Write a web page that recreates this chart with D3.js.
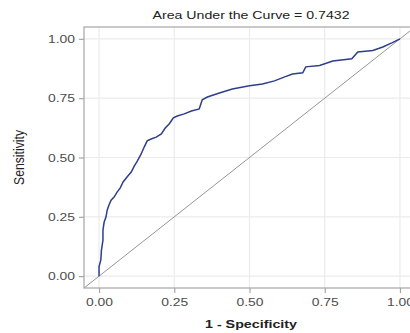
<!DOCTYPE html>
<html>
<head>
<meta charset="utf-8">
<script src="https://cdn.jsdelivr.net/npm/d3@7"></script>
<style>
  body { margin: 0; background: #fff; }
  text { font-family: "Liberation Sans", Arial, sans-serif; }
</style>
</head>
<body>
<script>
const width = 410
const height = 333
const margins = { top: 27, right: -5, bottom: 45, left: 84 }

const title = 'Area Under the Curve = 0.7432'
const xLabel = '1 - Specificity'
const yLabel = 'Sensitivity'
const ticks = [0, 0.25, 0.5, 0.75, 1]

// ROC points
const fpr = [0, 0, 0.006, 0.008, 0.013, 0.013, 0.017, 0.023, 0.027, 0.033,
  0.04, 0.05, 0.06, 0.07, 0.08, 0.093, 0.107, 0.117, 0.127, 0.14,
  0.15, 0.16, 0.173, 0.19, 0.207, 0.22, 0.233, 0.247, 0.26, 0.283,
  0.307, 0.333, 0.343, 0.36, 0.40, 0.443, 0.50, 0.543, 0.583, 0.617,
  0.643, 0.677, 0.687, 0.733, 0.777, 0.84, 0.86, 0.91, 0.943, 0.973, 1]
const tpr = [0, 0.04, 0.068, 0.11, 0.152, 0.194, 0.228, 0.249, 0.278, 0.30,
  0.32, 0.333, 0.354, 0.371, 0.397, 0.418, 0.439, 0.464, 0.485, 0.515,
  0.544, 0.57, 0.578, 0.586, 0.599, 0.624, 0.641, 0.667, 0.675, 0.684,
  0.696, 0.705, 0.743, 0.755, 0.772, 0.789, 0.802, 0.81, 0.823, 0.84,
  0.852, 0.857, 0.882, 0.888, 0.907, 0.916, 0.945, 0.951, 0.966, 0.983, 1]

const svg = d3.select('body').append('svg')
  .attr('width', width)
  .attr('height', height)

const x = d3.scaleLinear().domain([-0.05, 1.05]).range([margins.left, width - margins.right])
const y = d3.scaleLinear().domain([-0.05, 1.05]).range([height - margins.bottom, margins.top])

svg.append('clipPath').attr('id', 'panel')
  .append('rect')
  .attr('x', margins.left).attr('y', margins.top)
  .attr('width', width - margins.right - margins.left)
  .attr('height', height - margins.bottom - margins.top)

// grid
const grid = svg.append('g').attr('stroke', '#ebebeb').attr('stroke-width', 1.2)
grid.selectAll('.gx').data(ticks).enter().append('line')
  .attr('x1', d => x(d)).attr('x2', d => x(d))
  .attr('y1', y.range()[0]).attr('y2', y.range()[1])
grid.selectAll('.gy').data(ticks).enter().append('line')
  .attr('y1', d => y(d)).attr('y2', d => y(d))
  .attr('x1', x.range()[0]).attr('x2', x.range()[1])

const plot = svg.append('g').attr('clip-path', 'url(#panel)')

// diagonal reference line
plot.append('line')
  .attr('x1', x(-0.05)).attr('y1', y(-0.05))
  .attr('x2', x(1.05)).attr('y2', y(1.05))
  .attr('stroke', '#8a8a8a').attr('stroke-width', 0.9)

const line = d3.line()
  .x((d, i) => x(fpr[i]))
  .y((d, i) => y(tpr[i]))

plot.append('path')
  .datum(fpr)
  .attr('d', line)
  .attr('fill', 'none')
  .attr('stroke', '#2d3f8a')
  .attr('stroke-width', 1.5)

// panel border
svg.append('rect')
  .attr('x', margins.left).attr('y', margins.top)
  .attr('width', width - margins.right - margins.left)
  .attr('height', height - margins.bottom - margins.top)
  .attr('fill', 'none').attr('stroke', '#a6a6a6').attr('stroke-width', 1.2)

const fmt = d3.format('.2f')

const xAxis = svg.append('g')
  .attr('transform', `translate(0,${height - margins.bottom})`)
  .call(d3.axisBottom(x).tickValues(ticks).tickFormat(fmt).tickSize(5).tickPadding(3))
const yAxis = svg.append('g')
  .attr('transform', `translate(${margins.left},0)`)
  .call(d3.axisLeft(y).tickValues(ticks).tickFormat(fmt).tickSize(5).tickPadding(4))

for (const ax of [xAxis, yAxis]) {
  ax.select('.domain').remove()
  ax.selectAll('.tick line').attr('stroke', '#a6a6a6').attr('stroke-width', 1.2)
  ax.selectAll('.tick text')
    .attr('fill', '#4d4d4d')
    .style('font-size', '11px')
    .attr('textLength', 27)
    .attr('lengthAdjust', 'spacingAndGlyphs')
}
xAxis.selectAll('.tick text').attr('dy', '0.9em')

svg.append('text')
  .attr('x', 251).attr('y', 19)
  .attr('text-anchor', 'middle')
  .attr('fill', '#222')
  .style('font-size', '10.5px')
  .attr('textLength', 197)
  .attr('lengthAdjust', 'spacingAndGlyphs')
  .text(title)

svg.append('text')
  .attr('x', 251).attr('y', 327.5)
  .attr('text-anchor', 'middle')
  .attr('fill', '#222')
  .style('font-size', '11px')
  .style('font-weight', 'bold')
  .attr('textLength', 92)
  .attr('lengthAdjust', 'spacingAndGlyphs')
  .text(xLabel)

svg.append('text')
  .attr('transform', `translate(24,157.5) scale(1.25,1) rotate(-90)`)
  .attr('text-anchor', 'middle')
  .attr('fill', '#222')
  .style('font-size', '11px')
  .attr('textLength', 55)
  .attr('lengthAdjust', 'spacingAndGlyphs')
  .text(yLabel)
</script>
</body>
</html>
